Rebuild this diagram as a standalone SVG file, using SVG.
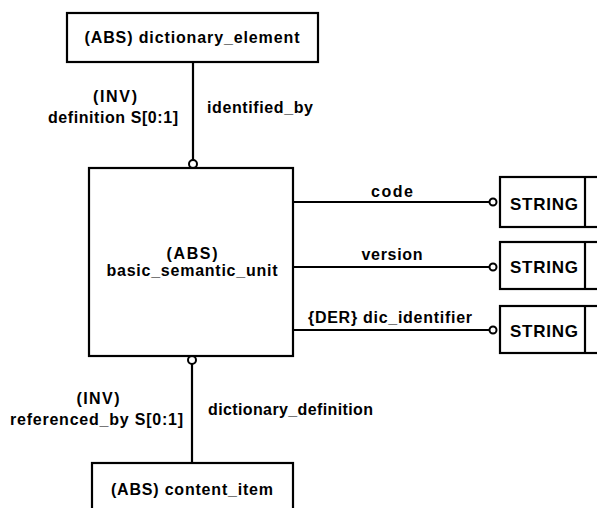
<svg xmlns="http://www.w3.org/2000/svg" width="597" height="508" viewBox="0 0 597 508">
<style>
.box{fill:#fff;stroke:#000;stroke-width:2.2}
.ln{stroke:#000;stroke-width:2.2;fill:none}
.o{fill:#fff;stroke:#000;stroke-width:2}
text{font-family:"Liberation Sans",Arial,sans-serif;font-size:16px;font-weight:bold;fill:#000}
.m{text-anchor:middle}
.e{text-anchor:end}
.s{font-size:17px}
</style>
<rect width="597" height="508" fill="#fff"/>
<g id="connectors">
<line class="ln" x1="193" y1="62" x2="193" y2="160"/>
<circle class="o" cx="193" cy="164" r="4"/>
<line class="ln" x1="192" y1="364" x2="192" y2="463"/>
<circle class="o" cx="192" cy="360" r="4"/>
<line class="ln" x1="293" y1="202" x2="489" y2="202"/>
<circle class="o" cx="493" cy="202" r="3.5"/>
<line class="ln" x1="293" y1="267" x2="489" y2="267"/>
<circle class="o" cx="493" cy="267" r="3.5"/>
<line class="ln" x1="293" y1="330" x2="489" y2="330"/>
<circle class="o" cx="493" cy="330" r="3.5"/>
<text class="m" x="115" y="102" textLength="44">(INV)</text>
<text class="e" x="178" y="123" textLength="130">definition S[0:1]</text>
<text x="207" y="113" textLength="106">identified_by</text>
<text class="m" x="392" y="197" textLength="42">code</text>
<text class="m" x="392" y="260" textLength="61">version</text>
<text class="m" x="390" y="323" textLength="164">{DER} dic_identifier</text>
<text class="m" x="98" y="404" textLength="43">(INV)</text>
<text class="e" x="183" y="425" textLength="173">referenced_by S[0:1]</text>
<text x="208" y="415" textLength="165">dictionary_definition</text>
</g>
<g id="dictionary_element">
<rect class="box" x="67" y="13" width="251" height="49"/>
<text class="m" x="192" y="43" textLength="215">(ABS) dictionary_element</text>
</g>
<g id="basic_semantic_unit">
<rect class="box" x="89" y="168" width="204" height="188"/>
<text class="m" x="192" y="259" textLength="51">(ABS)</text>
<text class="m" x="192" y="276" textLength="171">basic_semantic_unit</text>
</g>
<g id="string1">
<rect class="box" x="500" y="177" width="110" height="50"/>
<line class="ln" x1="585" y1="177" x2="585" y2="227"/>
<text class="s" x="510" y="210" textLength="68">STRING</text>
</g>
<g id="string2">
<rect class="box" x="500" y="242" width="110" height="47"/>
<line class="ln" x1="585" y1="242" x2="585" y2="289"/>
<text class="s" x="510" y="273" textLength="68">STRING</text>
</g>
<g id="string3">
<rect class="box" x="500" y="306" width="110" height="47"/>
<line class="ln" x1="585" y1="306" x2="585" y2="353"/>
<text class="s" x="510" y="337" textLength="68">STRING</text>
</g>
<g id="content_item">
<rect class="box" x="92" y="463" width="201" height="60"/>
<text class="m" x="192" y="495" textLength="162">(ABS) content_item</text>
</g>
</svg>
